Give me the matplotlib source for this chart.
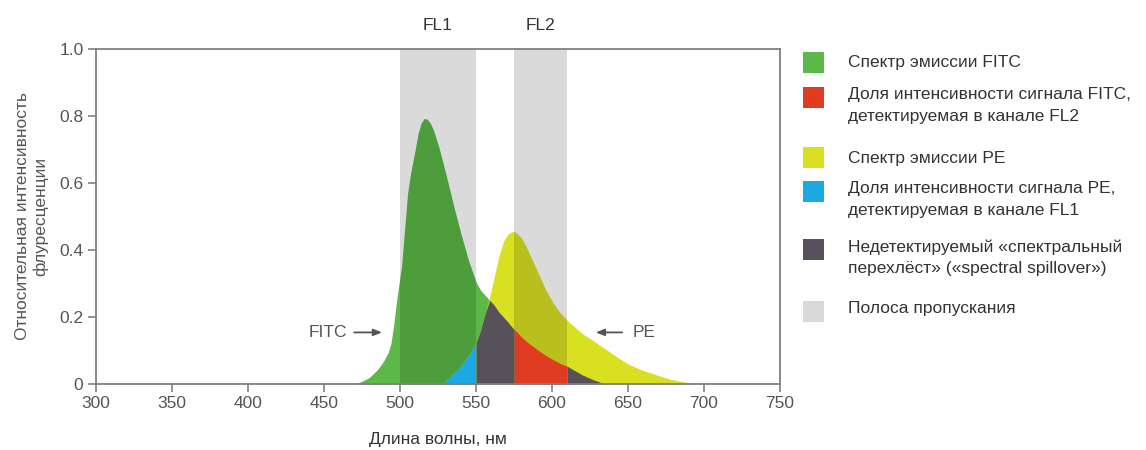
import matplotlib
matplotlib.use("Agg")
import matplotlib.pyplot as plt
import numpy as np
from matplotlib.patches import Rectangle

plt.rcParams['font.family'] = ['Liberation Sans', 'DejaVu Sans']

# ---- data ----
wavelength = [465, 470, 475, 480, 485, 488, 490, 492, 494, 495, 496, 497, 499, 500, 501, 503, 505,
              507, 510, 512, 514, 516, 518, 520, 522, 524, 526, 528, 530, 533, 536, 540, 545,
              550, 553, 556, 559, 562, 565, 568, 571, 574, 575, 577, 580, 583, 586, 589, 592,
              596, 601, 605, 610, 615, 620, 627, 630, 635, 643, 650, 660, 667, 675, 680, 690,
              700, 705]
fitc = [0, 0, 0.008, 0.02, 0.042, 0.06, 0.075, 0.092, 0.12, 0.15, 0.18, 0.22, 0.29, 0.32, 0.35,
        0.46, 0.57, 0.63, 0.70, 0.75, 0.78, 0.793, 0.79, 0.778, 0.758, 0.73, 0.70, 0.665, 0.63,
        0.575, 0.52, 0.45, 0.37, 0.305, 0.28, 0.265, 0.25, 0.235, 0.215, 0.20, 0.185, 0.168,
        0.163, 0.155, 0.14, 0.128, 0.117, 0.107, 0.097, 0.085, 0.072, 0.062, 0.053, 0.04,
        0.027, 0.013, 0.008, 0, 0, 0, 0, 0, 0, 0, 0, 0, 0]
pe = [0, 0, 0, 0, 0, 0, 0, 0, 0, 0, 0, 0, 0, 0, 0, 0, 0, 0, 0, 0, 0, 0, 0, 0, 0, 0, 0, 0, 0.01,
      0.022, 0.036, 0.055, 0.085, 0.122, 0.16, 0.21, 0.26, 0.32, 0.38, 0.425, 0.448, 0.455,
      0.455, 0.45, 0.435, 0.41, 0.38, 0.35, 0.32, 0.28, 0.24, 0.215, 0.19, 0.17, 0.15, 0.13,
      0.12, 0.105, 0.08, 0.06, 0.04, 0.03, 0.018, 0.012, 0.004, 0, 0]

fl1_band = (500, 550)
fl2_band = (575, 610)
band_labels = ["FL1", "FL2"]

x_ticks = [300, 350, 400, 450, 500, 550, 600, 650, 700, 750]
y_ticks = [0, 0.2, 0.4, 0.6, 0.8, 1.0]
y_ticklabels = ["0", "0.2", "0.4", "0.6", "0.8", "1.0"]

legend_labels = [
    ["Спектр эмиссии FITC"],
    ["Доля интенсивности сигнала FITC,", "детектируемая в канале FL2"],
    ["Спектр эмиссии PE"],
    ["Доля интенсивности сигнала PE,", "детектируемая в канале FL1"],
    ["Недетектируемый «спектральный", "перехлёст» («spectral spillover»)"],
    ["Полоса пропускания"],
]

# ---- styles ----
C_GREEN = "#5cb848"
C_YELLOW = "#d9e021"
C_RED = "#e03c22"
C_BLUE = "#1ca9e1"
C_DARK = "#56515a"
C_BAND = "#d9d9d9"
C_AXIS = "#808080"
C_TEXT = "#555555"

W, H = 1146, 450
fig = plt.figure(figsize=(W / 100, H / 100), dpi=100)
ax = fig.add_axes([96 / W, 1 - 384 / H, 684 / W, 335 / H])

wl = np.array(wavelength, dtype=float)
f = np.array(fitc)
p = np.array(pe)
m = np.minimum(f, p)

ax.fill_between(wl, 0, f, color=C_GREEN, lw=0, zorder=1)
ax.fill_between(wl, 0, p, color=C_YELLOW, lw=0, zorder=1)
# bands drawn as translucent overlay so they darken the spectra
for (a, b) in (fl1_band, fl2_band):
    ax.axvspan(a, b, color="black", alpha=0.145, lw=0, zorder=2)

in_fl1 = (wl >= fl1_band[0]) & (wl <= fl1_band[1])
in_fl2 = (wl >= fl2_band[0]) & (wl <= fl2_band[1])
gap = (wl >= fl1_band[1]) & (wl <= fl2_band[0])
after = wl >= fl2_band[1]
ax.fill_between(wl, 0, m, where=in_fl1, color=C_BLUE, lw=0, zorder=3)
ax.fill_between(wl, 0, m, where=in_fl2, color=C_RED, lw=0, zorder=3)
ax.fill_between(wl, 0, m, where=gap, color=C_DARK, lw=0, zorder=3)
ax.fill_between(wl, 0, m, where=after, color=C_DARK, lw=0, zorder=3)

ax.set_xlim(300, 750)
ax.set_ylim(0, 1.0)
ax.set_xticks(x_ticks)
ax.set_yticks(y_ticks)
ax.set_yticklabels(y_ticklabels)
for s in ax.spines.values():
    s.set_color(C_AXIS)
    s.set_linewidth(1.3)
    s.set_zorder(5)
ax.tick_params(direction="out", length=6, width=1.2, color=C_AXIS,
               labelcolor=C_TEXT, labelsize=12.5, pad=3)

ax.set_xlabel("Длина волны, нм", fontsize=12.5, color="#333333", labelpad=15)
ax.set_ylabel("Относительная интенсивность\nфлуресценции", fontsize=12.5,
              color="#555555", labelpad=8, linespacing=1.2)

for (a, b), lab in zip((fl1_band, fl2_band), band_labels):
    ax.text((a + b) / 2, 1.07, lab, ha="center", va="center", fontsize=12.5, color="#333333",
            transform=ax.get_xaxis_transform(), clip_on=False)

ax.annotate("", xy=(490, 0.154), xytext=(468, 0.154),
            arrowprops=dict(arrowstyle="-|>,head_length=0.5,head_width=0.2", color="#555555", lw=1.3))
ax.text(465, 0.154, "FITC", ha="right", va="center", fontsize=12.5, color="#555555")
ax.annotate("", xy=(627, 0.154), xytext=(648, 0.154),
            arrowprops=dict(arrowstyle="-|>,head_length=0.5,head_width=0.2", color="#555555", lw=1.3))
ax.text(653, 0.154, "PE", ha="left", va="center", fontsize=12.5, color="#555555")

# ---- legend ----
leg_colors = [C_GREEN, C_RED, C_YELLOW, C_BLUE, C_DARK, C_BAND]
patch_centers = [62.5, 97.5, 157.5, 191, 249, 311]
text_first_line = [62.5, 94, 158, 189, 247, 308]
for col, yc, ty, lines in zip(leg_colors, patch_centers, text_first_line, legend_labels):
    fig.add_artist(Rectangle((803 / W, 1 - (yc + 10.5) / H), 21 / W, 21 / H,
                             transform=fig.transFigure, color=col, lw=0))
    for i, line in enumerate(lines):
        fig.text(848 / W, 1 - (ty + 22 * i) / H, line, ha="left", va="center",
                 fontsize=12.5, color="#333333")

fig.savefig("out.png", dpi=100)
